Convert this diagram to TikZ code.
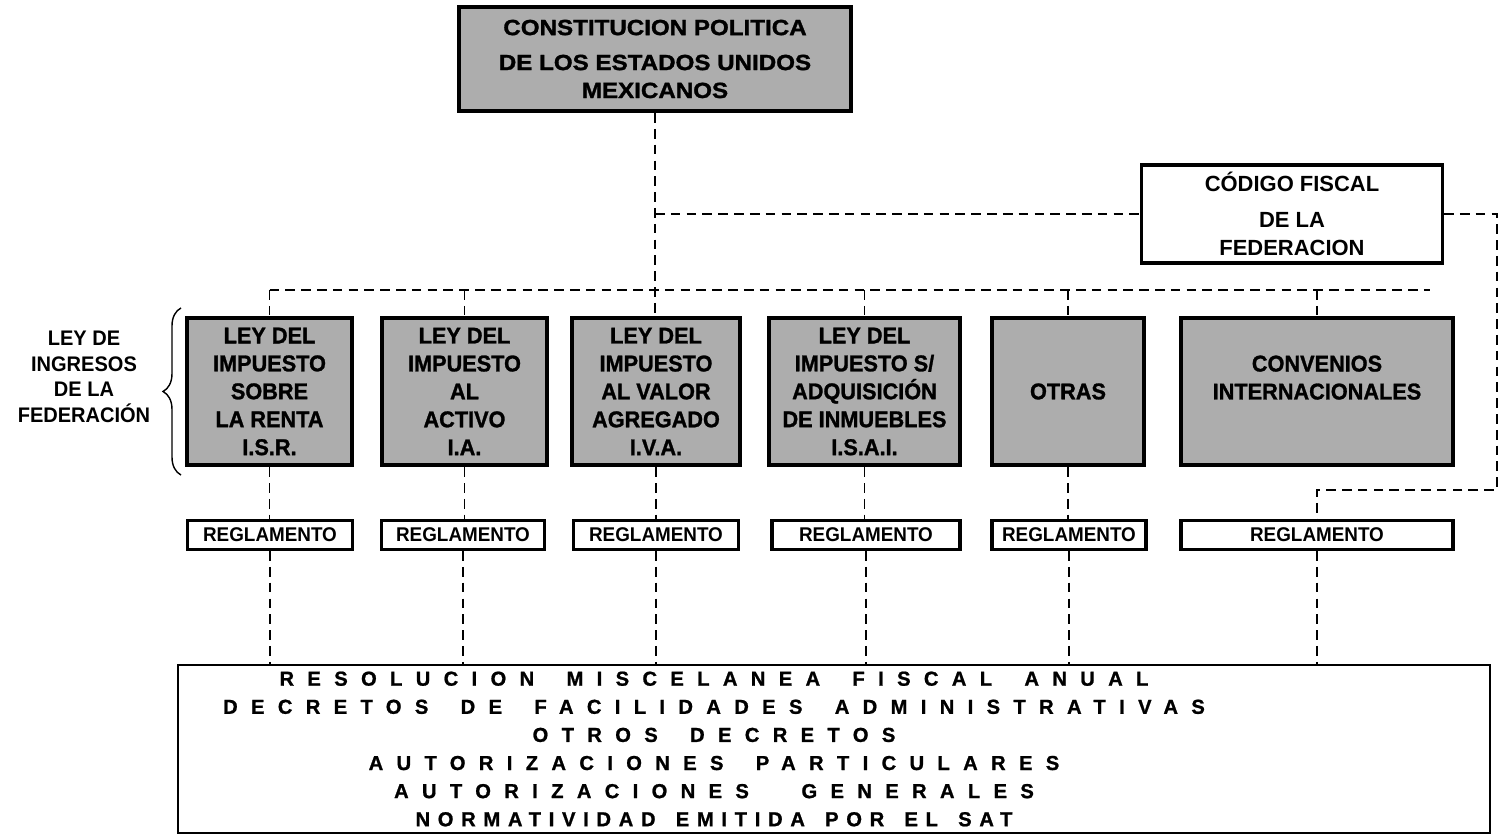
\documentclass[tikz,border=0pt]{standalone}
\usepackage{fontspec}
\setmainfont{Liberation Sans}
\usetikzlibrary{decorations.pathreplacing}
\newfontfamily\headfont{Liberation Sans}[FakeStretch=1.1,FakeBold=1.4]
\newfontfamily\lawfont{Liberation Sans}[FakeStretch=0.95,FakeBold=1.2]
\newfontfamily\narrowfont{Liberation Sans}[FakeStretch=0.95]
\newfontfamily\spacedfont{Liberation Sans}[LetterSpace=66,FakeBold=1]
\newfontfamily\satfont{Liberation Sans}[LetterSpace=38,FakeBold=1]
\definecolor{screen}{HTML}{ADADAD}
\newcommand\wgap{\hspace{1.6em}}
\newcommand\sgap{\hspace{1em}}

\begin{document}
\begin{tikzpicture}[x=0.02cm,y=-0.02cm,
  link/.style={line width=1pt,dash pattern=on 5.5pt off 3.5pt},
  headbox/.style={draw,line width=2.4pt,fill=screen,inner sep=0pt,align=center,
    font=\headfont\bfseries\fontsize{12.5}{15.9}\selectfont},
  lawbox/.style={draw,line width=2.6pt,fill=screen,inner sep=0pt,align=center,
    minimum height=2.94cm,font=\lawfont\bfseries\fontsize{13}{15.9}\selectfont},
  reglbox/.style={draw,line width=1.8pt,fill=white,inner sep=0pt,minimum height=0.58cm,
    font=\narrowfont\bfseries\fontsize{11.3}{13}\selectfont},
  codebox/.style={draw,line width=1.8pt,fill=white,inner sep=0pt,align=center,
    font=\bfseries\fontsize{12.5}{16}\selectfont},
  normbox/.style={draw,line width=1.4pt,inner sep=0pt},
  tag/.style={align=center,font=\narrowfont\bfseries\fontsize{12}{14.5}\selectfont}]
  \useasboundingbox (0,0) rectangle (1505,837);

  % top of the hierarchy
  \node[headbox,minimum width=7.84cm,minimum height=2.08cm] (cpeum) at (655,59)
    {CONSTITUCION POLITICA\\[4pt]DE LOS ESTADOS UNIDOS\\MEXICANOS};
  \node[codebox,minimum width=6.02cm,minimum height=1.96cm] (cff) at (1292,214)
    {CÓDIGO FISCAL\\[4pt]DE LA\\FEDERACION};

  % the laws
  \node[lawbox,minimum width=3.30cm] (isr) at (269.5,391.5) {LEY DEL\\IMPUESTO\\SOBRE\\LA RENTA\\I.S.R.};
  \node[lawbox,minimum width=3.30cm] (ia) at (464.5,391.5) {LEY DEL\\IMPUESTO\\AL\\ACTIVO\\I.A.};
  \node[lawbox,minimum width=3.36cm] (iva) at (656,391.5) {LEY DEL\\IMPUESTO\\AL VALOR\\AGREGADO\\I.V.A.};
  \node[lawbox,minimum width=3.82cm] (isai) at (864.5,391.5) {LEY DEL\\IMPUESTO S/\\ADQUISICIÓN\\DE INMUEBLES\\I.S.A.I.};
  \node[lawbox,minimum width=3.04cm] (otras) at (1068,391.5) {OTRAS};
  \node[lawbox,minimum width=5.44cm] (conv) at (1317,391.5) {CONVENIOS\\INTERNACIONALES\\\mbox{}};

  \node[tag] (lif) at (84,377) {LEY DE\\INGRESOS\\DE LA\\FEDERACIÓN};
  \draw[line width=0.8pt,decorate,decoration={brace,amplitude=0.36cm}] (181,475) -- (181,308);

  % reglamentos
  \node[reglbox,minimum width=3.30cm] (r1) at (270,535) {REGLAMENTO};
  \node[reglbox,minimum width=3.26cm] (r2) at (463,535) {REGLAMENTO};
  \node[reglbox,minimum width=3.30cm] (r3) at (656,535) {REGLAMENTO};
  \node[reglbox,minimum width=3.76cm] (r4) at (866,535) {REGLAMENTO};
  \node[reglbox,minimum width=3.08cm] (r5) at (1069,535) {REGLAMENTO};
  \node[reglbox,minimum width=5.44cm] (r6) at (1317,535) {REGLAMENTO};

  % other rules
  \node[normbox,minimum width=26.24cm,minimum height=3.36cm] (normas) at (834,749) {};
  \node[align=center,font=\bfseries\fontsize{11.5}{16}\selectfont] (normtxt) at (714,749)
    {{\spacedfont RESOLUCION\wgap MISCELANEA\wgap FISCAL\wgap ANUAL}\\
     {\spacedfont DECRETOS\wgap DE\wgap FACILIDADES\wgap ADMINISTRATIVAS}\\
     {\spacedfont OTROS\wgap DECRETOS}\\
     {\spacedfont AUTORIZACIONES\wgap PARTICULARES}\\
     {\spacedfont AUTORIZACIONES\hspace{2.6em}GENERALES}\\
     {\satfont NORMATIVIDAD\sgap EMITIDA\sgap POR\sgap EL\sgap SAT}};

  % dashed links
  \coordinate (busR) at (1430,290);
  \coordinate (turn) at (1497,490);
  \draw[link] (cpeum.south) -- (cpeum.south |- iva.north);
  \draw[link] (cpeum.south |- cff.west) -- (cff.west);
  \draw[link] (isr.north |- busR) -- (busR);
  \foreach \n in {isr,ia,isai,otras,conv}
    \draw[link] (\n.north |- busR) -- (\n.north);
  \draw[link] (cff.east) -| (turn) -| (r6.north);
  \foreach \a/\b in {isr/r1,ia/r2,iva/r3,isai/r4,otras/r5}
    \draw[link] (\a.south) -- (\a.south |- \b.north);
  \foreach \b in {r1,r2,r3,r4,r5,r6}
    \draw[link] (\b.south) -- (\b.south |- normas.north);
\end{tikzpicture}
\end{document}
